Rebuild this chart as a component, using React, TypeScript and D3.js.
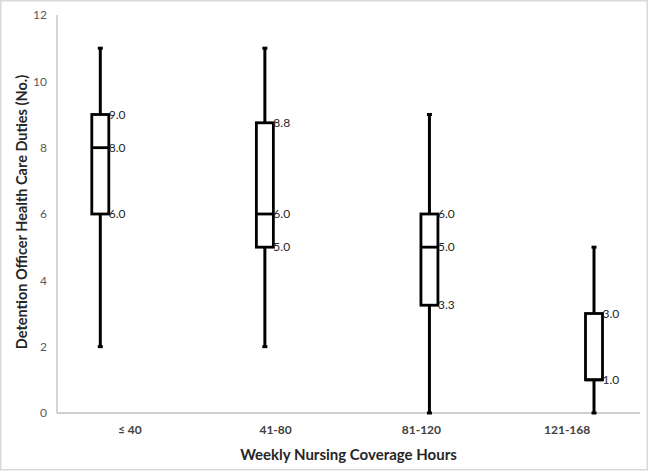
import React from "react";
import * as d3 from "d3";

const categories = ["≤ 40", "41-80", "81-120", "121-168"];
const minValues = [2, 2, 0, 0];
const q1Values = [6, 5, 3.25, 1];
const medianValues = [8, 6, 5, 1];
const q3Values = [9, 8.75, 6, 3];
const maxValues = [11, 11, 9, 5];
const q1Labels = ["6.0", "5.0", "3.3", "1.0"];
const medianLabels = ["8.0", "6.0", "5.0", ""];
const q3Labels = ["9.0", "8.8", "6.0", "3.0"];
const yTicks = [0, 2, 4, 6, 8, 10, 12];

const W = 649;
const H = 472;
const font = "Lato, 'Open Sans', sans-serif";

export default function App() {
  const plotLeft = 57;
  const plotRight = 640;
  const y = d3.scaleLinear().domain([0, 12]).range([413, 15]);
  const xBand = d3.scaleBand<string>().domain(categories).range([plotLeft, plotRight]);
  const xBox = d3.scaleLinear().domain([0, 3]).range([100.3, 594]);
  const boxW = 17;
  const capW = 5;

  return (
    <div style={{ position: "absolute", left: 0, top: 0 }}>
      <svg width={W} height={H} style={{ display: "block", background: "#fff" }}>
        <rect x={0.75} y={0.75} width={W - 2.5} height={H - 3} fill="#fff" stroke="#d9d9d9" strokeWidth={1.5} />
        {/* axes */}
        <line x1={plotLeft} x2={plotLeft} y1={y(12)} y2={y(0)} stroke="#bfbfbf" strokeWidth={1.3} />
        <line x1={plotLeft} x2={plotRight} y1={y(0)} y2={y(0)} stroke="#bfbfbf" strokeWidth={1.3} />
        {yTicks.map((t) => (
          <text key={t} x={47} y={y(t)} dy="0.35em" textAnchor="end" fontFamily={font} fontSize={12} fill="#595959">
            {t}
          </text>
        ))}
        {categories.map((c) => (
          <text key={c} x={xBand(c)! + xBand.bandwidth() / 2} y={430} dy="0.35em" textAnchor="middle" fontFamily={font} fontSize={12} fontWeight="bold" fill="#404040">
            {c}
          </text>
        ))}
        {/* boxes */}
        {categories.map((c, i) => {
          const cx = xBox(i);
          return (
            <g key={c} stroke="#000" fill="none">
              <line x1={cx} x2={cx} y1={y(maxValues[i])} y2={y(q3Values[i])} strokeWidth={3} />
              <line x1={cx} x2={cx} y1={y(q1Values[i])} y2={y(minValues[i])} strokeWidth={3} />
              <line x1={cx - capW / 2} x2={cx + capW / 2} y1={y(maxValues[i])} y2={y(maxValues[i])} strokeWidth={3} />
              <line x1={cx - capW / 2} x2={cx + capW / 2} y1={y(minValues[i])} y2={y(minValues[i])} strokeWidth={3} />
              <rect x={cx - boxW / 2} y={y(q3Values[i])} width={boxW} height={y(q1Values[i]) - y(q3Values[i])} fill="#fff" strokeWidth={2.8} />
              <line x1={cx - boxW / 2} x2={cx + boxW / 2} y1={y(medianValues[i])} y2={y(medianValues[i])} strokeWidth={2.8} />
            </g>
          );
        })}
        {categories.map((c, i) => {
          const lx = xBox(i) + boxW / 2;
          const items = [
            [q3Values[i], q3Labels[i]],
            [medianValues[i], medianLabels[i]],
            [q1Values[i], q1Labels[i]],
          ] as [number, string][];
          return items
            .filter((d) => d[1] !== "")
            .map((d, k) => (
              <text key={c + k} x={lx} y={y(d[0])} dy="0.35em" fontFamily={font} fontSize={12} fill="#262626">
                {d[1]}
              </text>
            ));
        })}
        {/* titles */}
        <text x={(plotLeft + plotRight) / 2} y={455} dy="0.35em" textAnchor="middle" fontFamily={font} fontSize={15} fontWeight="bold" fill="#262626">
          Weekly Nursing Coverage Hours
        </text>
        <text transform={`translate(22,212) rotate(-90)`} textAnchor="middle" dy="0.35em" fontFamily={font} fontSize={14.5} fontWeight="bold" fill="#262626">
          Detention Officer Health Care Duties (No.)
        </text>
      </svg>
    </div>
  );
}
